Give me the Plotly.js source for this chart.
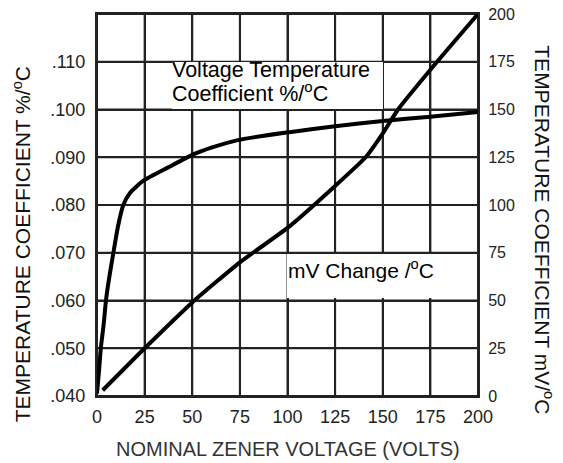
<!DOCTYPE html>
<html>
<head>
<meta charset="utf-8">
<script src="https://cdn.plot.ly/plotly-3.0.1.min.js"></script>
<style>
html,body{margin:0;padding:0;background:#fff;}
#chart{width:563px;height:463px;}
</style>
</head>
<body>
<div id="chart"></div>
<script>
// Voltage temperature coefficient (%/°C) vs nominal zener voltage
const pctVolts = [0, 1, 2, 3.5, 4.7, 6.5, 8.6, 11, 13.8, 17.3, 24, 38, 50, 60, 75, 100, 125, 150, 175, 200];
const pctCoeff = [0.0405, 0.045, 0.050, 0.055, 0.060, 0.065, 0.070, 0.0755, 0.080, 0.0825, 0.085, 0.088, 0.0905, 0.092, 0.0937, 0.0952, 0.0965, 0.0976, 0.0985, 0.0995];

// mV change /°C vs nominal zener voltage
const mvVolts = [3, 25, 50, 75, 100, 125, 141, 151, 158, 176, 200];
const mvChange = [3, 25, 49, 70, 88, 110, 125, 139, 150, 172, 200];

// Axis ticks
const xTickVals = [0, 25, 50, 75, 100, 125, 150, 175, 200];
const xTickText = ['0', '25', '50', '75', '100', '125', '150', '175', '200'];
const leftTickVals = [0.040, 0.050, 0.060, 0.070, 0.080, 0.090, 0.100, 0.110, 0.120];
const leftTickText = ['.040', '.050', '.060', '.070', '.080', '.090', '.100', '.110', ''];
const rightTickVals = [0, 25, 50, 75, 100, 125, 150, 175, 200];
const rightTickText = ['0', '25', '50', '75', '100', '125', '150', '175', '200'];

const FONT = 'Liberation Sans, Arial, Helvetica, sans-serif';
const GRID = '#222';
const CLEAR = 'rgba(0,0,0,0)';

// grid: each line is a trace passing through every tick value of the other axis
const gridTraces = [];
xTickVals.forEach(v => gridTraces.push({
  x: leftTickVals.map(() => v), y: leftTickVals, yaxis: 'y', type: 'scatter', mode: 'lines',
  line: {color: GRID, width: 2}, cliponaxis: false, hoverinfo: 'skip', name: 'grid'
}));
leftTickVals.forEach(v => gridTraces.push({
  x: xTickVals, y: xTickVals.map(() => v), yaxis: 'y', type: 'scatter', mode: 'lines',
  line: {color: GRID, width: 2}, cliponaxis: false, hoverinfo: 'skip', name: 'grid'
}));

const traces = gridTraces.concat([
  {
    x: pctVolts, y: pctCoeff, yaxis: 'y', type: 'scatter', mode: 'lines',
    line: {color: '#000', width: 4, shape: 'spline', smoothing: 0.5},
    name: 'Voltage Temperature Coefficient %/°C', hoverinfo: 'skip'
  },
  {
    x: mvVolts, y: mvChange, yaxis: 'y2', type: 'scatter', mode: 'lines',
    line: {color: '#000', width: 4, shape: 'spline', smoothing: 0.5},
    name: 'mV Change /°C', hoverinfo: 'skip'
  }
]);

const layout = {
  width: 563, height: 463,
  margin: {l: 97, r: 85, t: 14, b: 67, pad: 0},
  paper_bgcolor: '#fff', plot_bgcolor: '#fff',
  showlegend: false,
  font: {family: FONT, color: '#222'},
  xaxis: {
    range: [0, 200], tickmode: 'array', tickvals: xTickVals, ticktext: xTickText,
    showgrid: true, gridcolor: GRID, gridwidth: 2,
    showline: true, linecolor: GRID, linewidth: 2, mirror: true,
    zeroline: false, ticks: 'outside', ticklen: 3, tickcolor: CLEAR,
    tickfont: {family: FONT, size: 18, color: '#222'}
  },
  yaxis: {
    range: [0.040, 0.120], tickmode: 'array', tickvals: leftTickVals, ticktext: leftTickText,
    showgrid: true, gridcolor: GRID, gridwidth: 2,
    showline: true, linecolor: GRID, linewidth: 2, mirror: true,
    zeroline: false, ticks: 'outside', ticklen: 6, tickcolor: CLEAR,
    tickfont: {family: FONT, size: 18, color: '#222'}
  },
  yaxis2: {
    range: [0, 200], overlaying: 'y', side: 'right',
    tickmode: 'array', tickvals: rightTickVals, ticktext: rightTickText,
    showgrid: false, zeroline: false, showline: false,
    ticks: 'outside', ticklen: 6, tickcolor: CLEAR,
    tickfont: {family: FONT, size: 16, color: '#222'}
  },
  annotations: [
    {text: ' ', xref: 'x', yref: 'y', x: 94.75, y: 0.10503, width: 211, height: 47,
     xanchor: 'center', yanchor: 'middle', showarrow: false, bgcolor: '#fff',
     borderpad: 0, borderwidth: 0, font: {size: 10}},
    {text: ' ', xref: 'x', yref: 'y', x: 138.6, y: 0.06513, width: 148, height: 44,
     xanchor: 'center', yanchor: 'middle', showarrow: false, bgcolor: '#fff',
     borderpad: 0, borderwidth: 0, font: {size: 10}},
    {text: 'Voltage Temperature', xref: 'x', yref: 'y', x: 38.5, y: 0.1083,
     xanchor: 'left', yanchor: 'middle', showarrow: false,
     font: {family: FONT, size: 21.5, color: '#000'}},
    {text: 'Coefficient %/<sup>o</sup>C', xref: 'x', yref: 'y', x: 38.5, y: 0.1036,
     xanchor: 'left', yanchor: 'middle', showarrow: false,
     font: {family: FONT, size: 21.5, color: '#000'}},
    {text: 'mV Change /<sup>o</sup>C', xref: 'x', yref: 'y', x: 99.0, y: 0.0666,
     xanchor: 'left', yanchor: 'middle', showarrow: false,
     font: {family: FONT, size: 21, color: '#000'}},
    {text: 'NOMINAL ZENER VOLTAGE (VOLTS)', xref: 'paper', yref: 'paper', x: 0.5, y: -0.138,
     xanchor: 'center', yanchor: 'middle', showarrow: false,
     font: {family: FONT, size: 20, color: '#333'}},
    {text: 'TEMPERATURE COEFFICIENT %/<sup>o</sup>C', xref: 'paper', yref: 'paper', x: -0.197, y: 0.397,
     xanchor: 'center', yanchor: 'middle', showarrow: false, textangle: -90,
     font: {family: FONT, size: 21, color: '#111'}},
    {text: 'TEMPERATURE COEFFICIENT mV/<sup>o</sup>C', xref: 'paper', yref: 'paper', x: 1.171, y: 0.436,
     xanchor: 'center', yanchor: 'middle', showarrow: false, textangle: 90,
     font: {family: FONT, size: 21, color: '#111'}}
  ]
};

Plotly.newPlot('chart', traces, layout, {displayModeBar: false});
</script>
</body>
</html>
